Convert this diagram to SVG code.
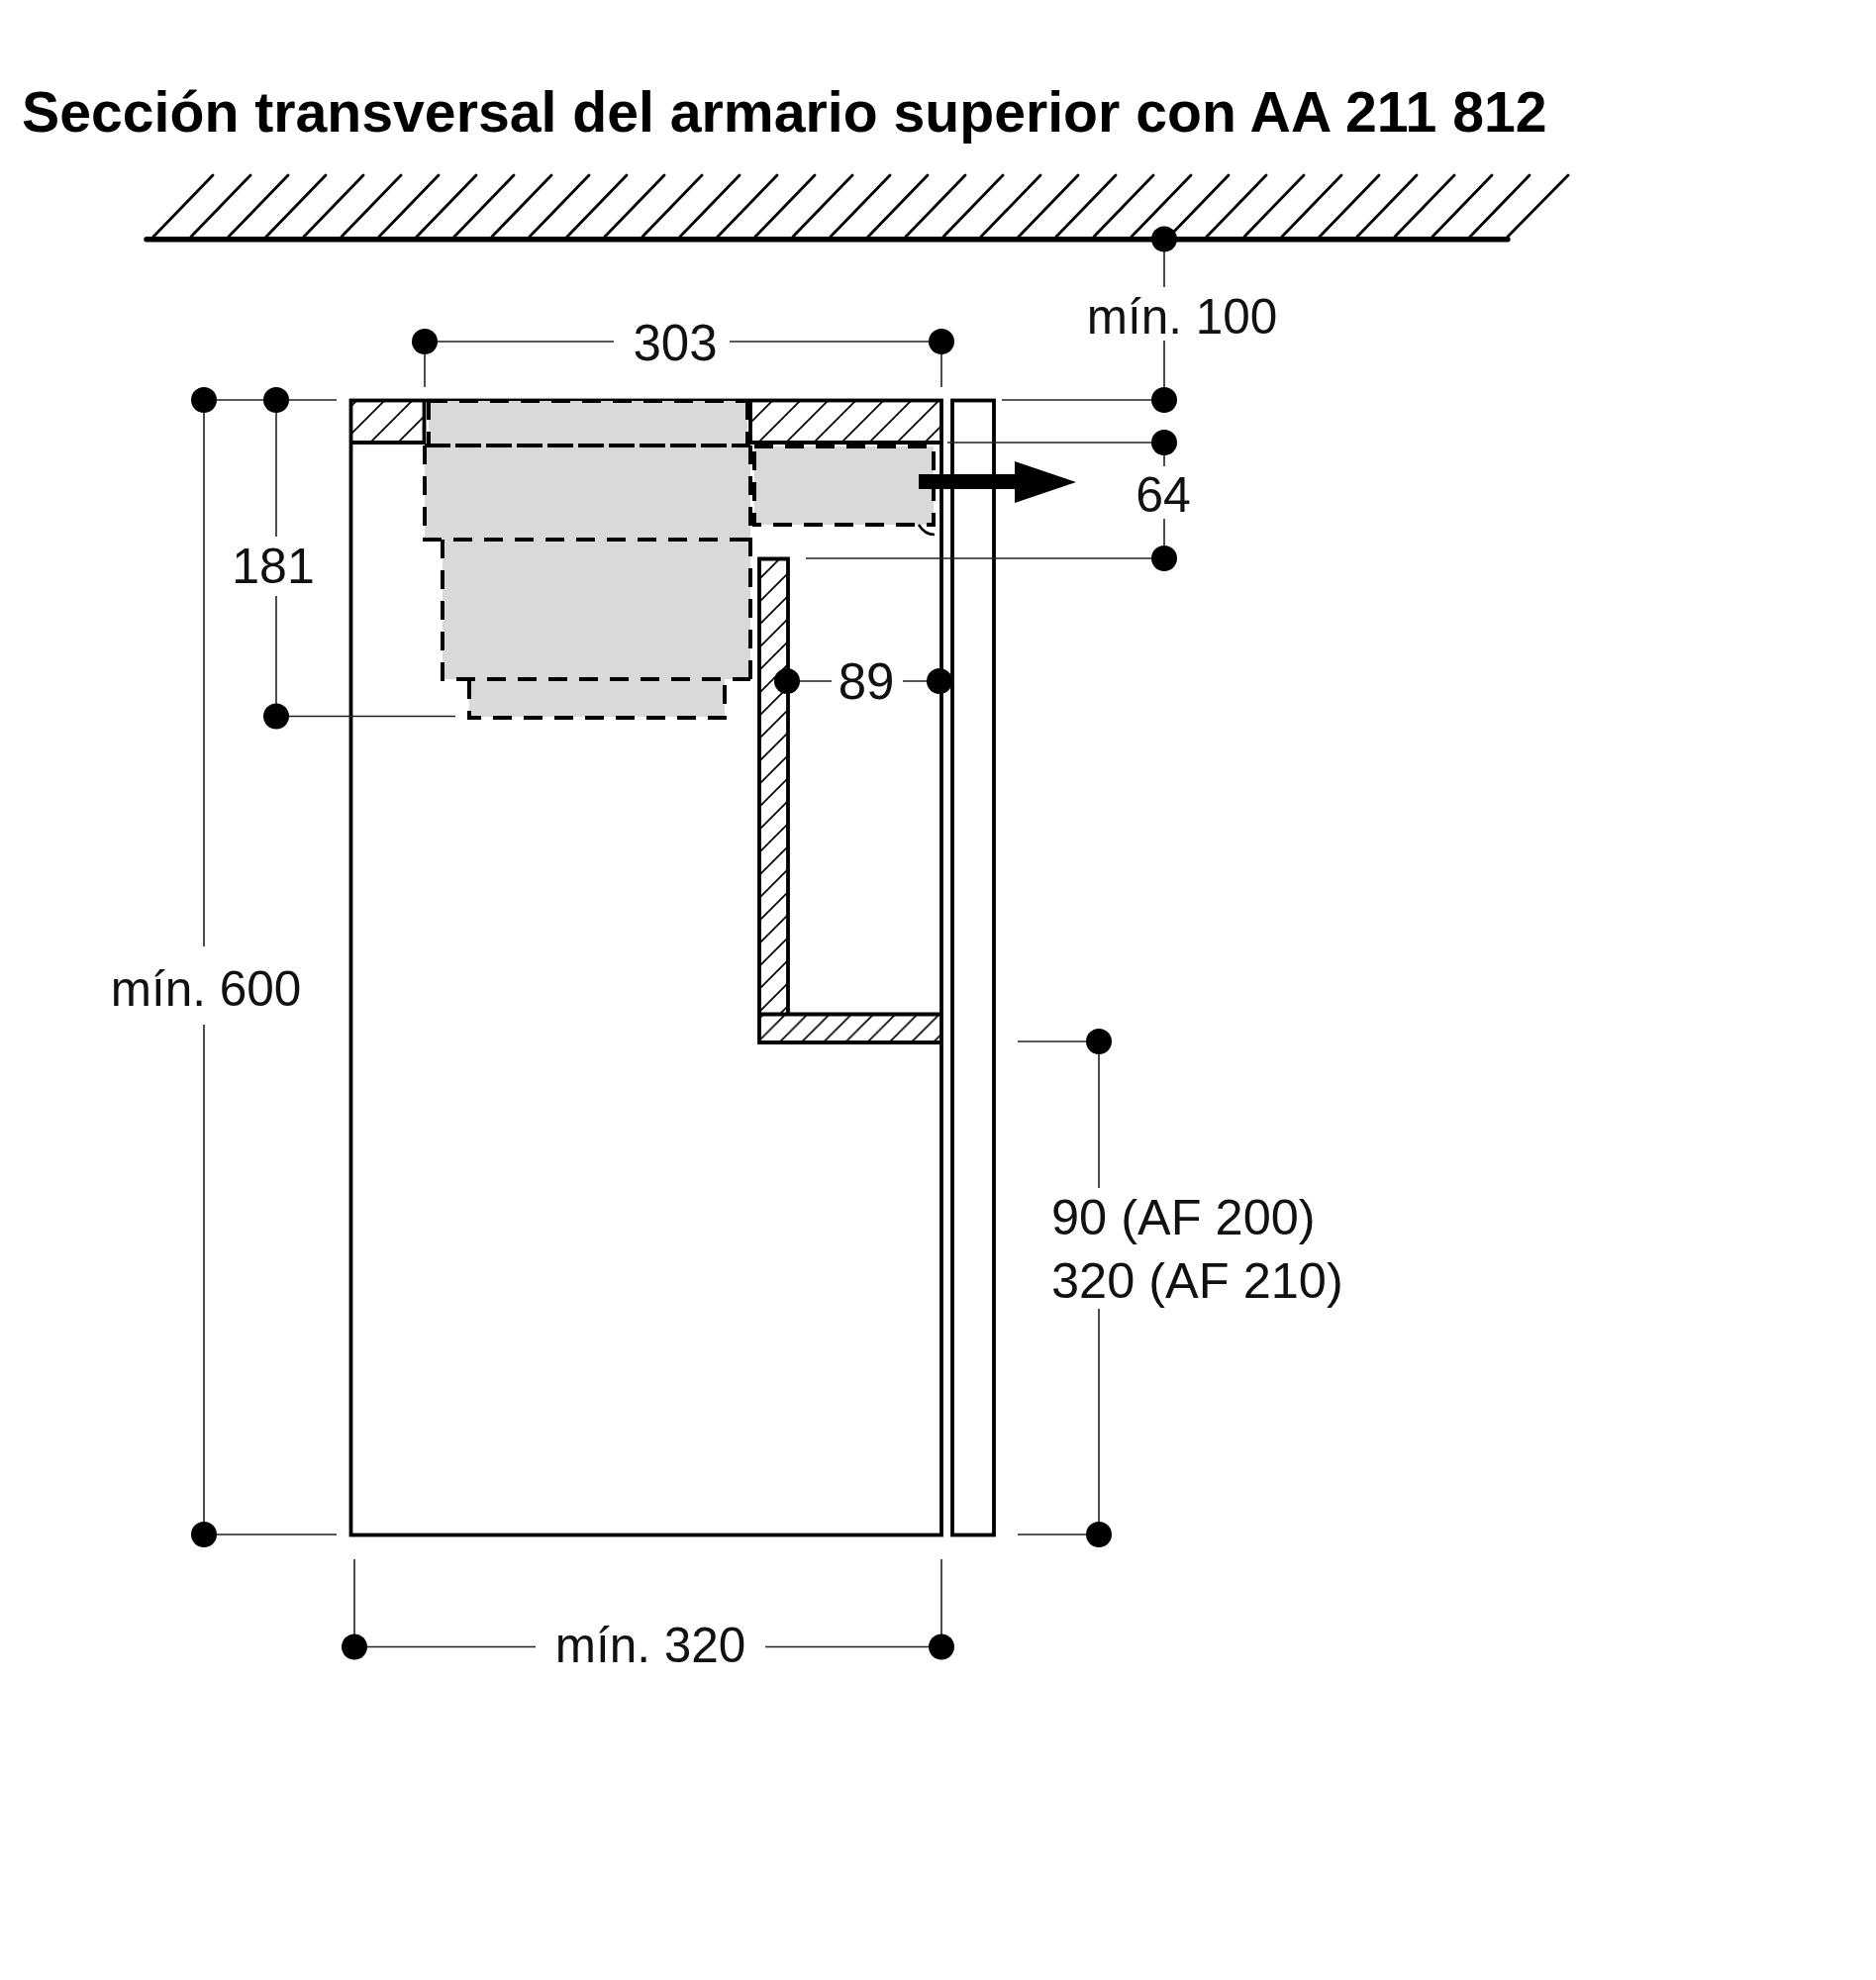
<svg xmlns="http://www.w3.org/2000/svg" width="1895" height="2000" viewBox="0 0 1895 2000">
<style>
text{font-family:"Liberation Sans",Arial,sans-serif;fill:#111;font-size:49.5px}
.title{font-weight:700;font-size:57.2px;fill:#000}
.dim{stroke:#222;stroke-width:1.6;fill:none}
.out{stroke:#000;stroke-width:3.8;fill:none}
.box{fill:#d9d9d9;stroke:none}
.dash{stroke:#000;stroke-width:4;fill:none;stroke-dasharray:19 12}
.dot{fill:#000}
.hs{stroke:#000;stroke-width:1.7;fill:none}
.ceil{stroke:#000;stroke-width:2.8;stroke-linecap:round}
</style>
<defs>
<pattern id="h28" patternUnits="userSpaceOnUse" width="28" height="28" patternTransform="translate(9,0)"><path class="hs" d="M0,28L28,0M-2,2L2,-2M26,30L30,26"/></pattern>
<pattern id="h23" patternUnits="userSpaceOnUse" width="23" height="23" patternTransform="translate(18,0)"><path class="hs" d="M0,23L23,0M-2,2L2,-2M21,25L25,21"/></pattern>
<pattern id="h22" patternUnits="userSpaceOnUse" width="22.2" height="22.2" patternTransform="translate(19.8,0)"><path class="hs" d="M0,22.2L22.2,0M-2,2L2,-2M20.2,24.2L24.2,20.2"/></pattern>
<circle id="d" r="13" class="dot"/>
</defs>
<rect width="1895" height="2000" fill="#fff"/>
<text id="title" class="title" x="22" y="133">Sección transversal del armario superior con AA 211 812</text>

<g id="ceiling">
<path class="ceil" d="M155,239L215,177M193,239L253,177M231,239L291,177M269,239L329,177M307,239L367,177M345,239L405,177M383,239L443,177M421,239L481,177M459,239L519,177M497,239L557,177M535,239L595,177M573,239L633,177M611,239L671,177M649,239L709,177M687,239L747,177M725,239L785,177M763,239L823,177M801,239L861,177M839,239L899,177M877,239L937,177M915,239L975,177M953,239L1013,177M991,239L1051,177M1029,239L1089,177M1067,239L1127,177M1105,239L1165,177M1143,239L1203,177M1181,239L1241,177M1219,239L1279,177M1257,239L1317,177M1295,239L1355,177M1333,239L1393,177M1371,239L1431,177M1409,239L1469,177M1447,239L1507,177M1485,239L1545,177M1523,239L1584,177"/>
<line x1="148" y1="241.7" x2="1523" y2="241.7" stroke="#000" stroke-width="5.4" stroke-linecap="round"/>
</g>

<g id="cabinet">
<rect x="354.5" y="404.5" width="74" height="42.5" fill="url(#h28)"/>
<rect x="758" y="404.5" width="193" height="42.5" fill="url(#h28)"/>
<rect class="out" x="354.5" y="404.5" width="596.5" height="1146"/>
<path class="out" d="M354.5,447H428.5V404.5M758,404.5V447H951"/>
</g>

<g id="door"><rect class="out" x="962" y="404.5" width="42" height="1146"/></g>

<g id="shelf">
<rect x="767" y="564.5" width="29" height="460" fill="url(#h23)"/>
<rect x="767" y="1024" width="184" height="29" fill="url(#h22)"/>
<path class="out" d="M951,1024.5H796V564.5H767V1053H951M767,1024.5H796"/>
</g>

<g id="appliance">
<rect class="box" x="433" y="405" width="322" height="46"/>
<rect class="box" x="429" y="450" width="329" height="95"/>
<rect class="box" x="447" y="545" width="311" height="141"/>
<rect class="box" x="474" y="686" width="258" height="38"/>
<rect class="box" x="762" y="451" width="181" height="79"/>
<path class="dash" d="M433,405H755M433,405V449M755,405V449"/>
<path class="out" style="stroke-dasharray:26 5" d="M429,450H758"/>
<path class="dash" d="M429,450V545H758M758,450V686M447,545V686H758"/>
<path class="dash" d="M474,687V725H732V687"/>
<path class="dash" d="M762,451H943V530H762Z"/>
<path d="M928,530Q934,540 944,540" fill="none" stroke="#000" stroke-width="2.5"/>
</g>

<g id="connectors">
<path class="dim" d="M206,404H340M206,1550H340M206,404V956M206,1035V1550M279,404V542M279,602V723.5H460"/>
<path class="dim" d="M429,345H620M737,345H951M429,345V391M951,345V391"/>
<path class="dim" d="M1176,241V290M1176,344V404M1012,404H1176M957,447H1176M814,564H1176M1176,447V471M1176,524V564"/>
<path class="dim" d="M795,688H840M912,688H949"/>
<path class="dim" d="M1028,1052H1110M1028,1550H1110M1110,1052V1200M1110,1322V1550"/>
<path class="dim" d="M358,1575V1663.5H541M773,1663.5H951V1575"/>
<path d="M928,479H1025V466L1087,487L1025,508V494H928Z" fill="#000"/>
</g>

<g id="dots">
<use href="#d" x="1176" y="241.5"/><use href="#d" x="1176" y="404"/><use href="#d" x="1176" y="447"/><use href="#d" x="1176" y="564"/>
<use href="#d" x="429" y="345"/><use href="#d" x="951" y="345"/>
<use href="#d" x="206" y="404"/><use href="#d" x="206" y="1550"/><use href="#d" x="279" y="404"/><use href="#d" x="279" y="723.5"/>
<use href="#d" x="795" y="688"/><use href="#d" x="949" y="688"/>
<use href="#d" x="1110" y="1052"/><use href="#d" x="1110" y="1550"/>
<use href="#d" x="358" y="1663.5"/><use href="#d" x="951" y="1663.5"/>
</g>

<g id="labels">
<text x="682" y="364" text-anchor="middle" style="font-size:51px">303</text>
<text x="1194" y="337" text-anchor="middle">mín. 100</text>
<text x="1175" y="517" text-anchor="middle" style="font-size:50px">64</text>
<text x="276" y="589" text-anchor="middle" style="font-size:50px">181</text>
<text x="875" y="706" text-anchor="middle" style="font-size:51px">89</text>
<text x="208" y="1016" text-anchor="middle">mín. 600</text>
<text x="1062" y="1247" style="font-size:50.5px">90 (AF 200)</text>
<text x="1062" y="1311" style="font-size:50.5px">320 (AF 210)</text>
<text x="657" y="1679" text-anchor="middle">mín. 320</text>
</g>
</svg>
